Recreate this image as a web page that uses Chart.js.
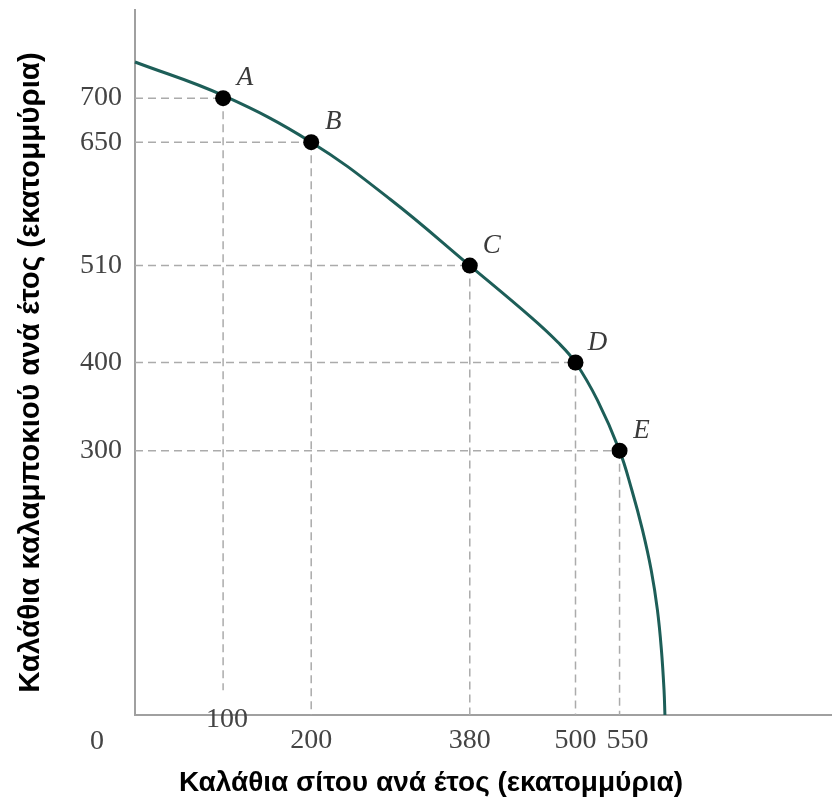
<!DOCTYPE html>
<html lang="el">
<head>
<meta charset="utf-8">
<title>Καμπύλη παραγωγικών δυνατοτήτων</title>
<script src="https://cdn.jsdelivr.net/npm/chart.js@4.4.1/dist/chart.umd.min.js"></script>
<style>
  html, body { margin: 0; padding: 0; background: #fff; }
  #wrap { width: 839px; height: 800px; }
</style>
</head>
<body>
<div id="wrap"><canvas id="ppf" width="839" height="800"></canvas></div>
<script>
/* ── 資料 ───────────────────────────────────────── */
const POINT_LABELS = ['A', 'B', 'C', 'D', 'E'];
const WHEAT = [100, 200, 380, 500, 550];   // 小麥（百萬籃）
const CORN  = [700, 650, 510, 400, 300];   // 玉米（百萬籃）

// 生產可能線
const CURVE_WHEAT = [0, 100, 200, 290, 380, 450, 480, 500, 525, 550, 564, 576, 586, 593, 597.5, 600.5, 601.5];
const CURVE_CORN  = [741, 703, 650, 585, 510, 451, 423, 400, 357, 300, 255, 210, 164, 119, 74, 28, 0];

const X_TICKS = [200, 380, 500];        // 100 與 550 另外畫（位置有偏移）
const Y_TICKS = [300, 400, 510, 650, 700];

const X_TITLE = 'Καλάθια σίτου ανά έτος (εκατομμύρια)';
const Y_TITLE = 'Καλάθια καλαμποκιού ανά έτος (εκατομμύρια)';

/* ── 樣式 ───────────────────────────────────────── */
const CURVE_COLOR = '#1d5e58';
const GUIDE_COLOR = '#ababab';
const AXIS_COLOR  = '#a0a0a0';
const TICK_COLOR  = '#444';
const SERIF       = '"Liberation Serif", "DejaVu Serif", serif';
const SANS        = '"Liberation Sans", Arial, sans-serif';
const TICK_FONT   = { family: SERIF, size: 28 };

/* 虛線輔助線：水平（到 y 軸）與垂直（到 x 軸） */
function buildGuides() {
  const guides = [];
  WHEAT.forEach((w, i) => {
    const c = CORN[i];
    guides.push([{ x: 0, y: c }, { x: w, y: c }]);
    // A 的垂直線在 100 標籤上方就停住
    guides.push([{ x: w, y: c }, { x: w, y: i === 0 ? 28 : 0 }]);
  });
  return guides.map(data => ({
    type: 'line',
    data,
    borderColor: GUIDE_COLOR,
    borderWidth: 1.5,
    borderDash: [8, 5],
    pointRadius: 0,
    order: 3
  }));
}

/* 點標籤、原點 0、偏移的 100 / 550，以及兩個軸標題 */
const annotate = {
  id: 'annotate',
  afterDatasetsDraw(chart) {
    const { ctx, scales: { x, y } } = chart;
    const meta = chart.getDatasetMeta(0);
    ctx.save();
    ctx.textAlign = 'center';
    ctx.textBaseline = 'middle';
    ctx.font = 'italic 27px ' + SERIF;
    ctx.fillStyle = '#3a3a3a';
    meta.data.forEach((pt, i) => ctx.fillText(POINT_LABELS[i], pt.x + 22, pt.y - 20));

    ctx.font = '28px ' + SERIF;
    ctx.fillStyle = TICK_COLOR;
    ctx.fillText('0', x.left - 38, x.top + 27);
    ctx.fillText('100', x.getPixelForValue(100) + 4, x.top + 5);
    ctx.fillText('550', x.getPixelForValue(550) + 8, x.top + 26);

    // 軸標題：位置照原圖，不是置中於繪圖區
    ctx.fillStyle = '#000';
    ctx.font = 'bold 28px ' + SANS;
    ctx.fillText(X_TITLE, 431, x.top + 68);
    ctx.translate(31, (y.top + y.bottom) / 2 + 10);
    ctx.rotate(-Math.PI / 2);
    ctx.font = 'bold 29.5px ' + SANS;
    ctx.fillText(Y_TITLE, 0, 0);
    ctx.restore();
  }
};

/* 固定軸的尺寸，去掉 Chart.js 自動加的標籤留白 */
function fixBox(size) {
  return s => {
    if (s.isHorizontal()) s.height = size; else s.width = size;
    s.paddingTop = s.paddingBottom = s.paddingLeft = s.paddingRight = 0;
  };
}

new Chart(document.getElementById('ppf'), {
  type: 'line',
  data: {
    datasets: [
      {
        data: WHEAT.map((w, i) => ({ x: w, y: CORN[i] })),
        showLine: false,
        pointRadius: 8,
        pointBackgroundColor: '#000',
        pointBorderWidth: 0,
        clip: false,
        order: 1
      },
      {
        data: CURVE_WHEAT.map((w, i) => ({ x: w, y: CURVE_CORN[i] })),
        borderColor: CURVE_COLOR,
        borderWidth: 3,
        pointRadius: 0,
        tension: 0.4,
        clip: false,
        order: 2
      },
      ...buildGuides()
    ]
  },
  options: {
    responsive: false,
    animation: false,
    devicePixelRatio: 1,
    layout: { padding: { top: 10, right: 4, left: 0, bottom: 0 } },
    plugins: { legend: { display: false }, tooltip: { enabled: false } },
    scales: {
      x: {
        type: 'linear',
        min: 0,
        max: 790,
        grid: { display: false, drawTicks: false },
        border: { display: true, color: AXIS_COLOR, width: 2 },
        afterBuildTicks: s => { s.ticks = X_TICKS.map(v => ({ value: v })); },
        afterFit: fixBox(85),
        ticks: { font: TICK_FONT, color: TICK_COLOR, padding: 9, maxRotation: 0 },
        title: { display: false }
      },
      y: {
        type: 'linear',
        min: 0,
        max: 800,
        grid: { display: false, drawTicks: false },
        border: { display: true, color: AXIS_COLOR, width: 2 },
        afterBuildTicks: s => { s.ticks = Y_TICKS.map(v => ({ value: v })); },
        afterFit: fixBox(135),
        ticks: { font: TICK_FONT, color: TICK_COLOR, padding: 13 },
        title: { display: false }
      }
    }
  },
  plugins: [annotate]
});
</script>
</body>
</html>
